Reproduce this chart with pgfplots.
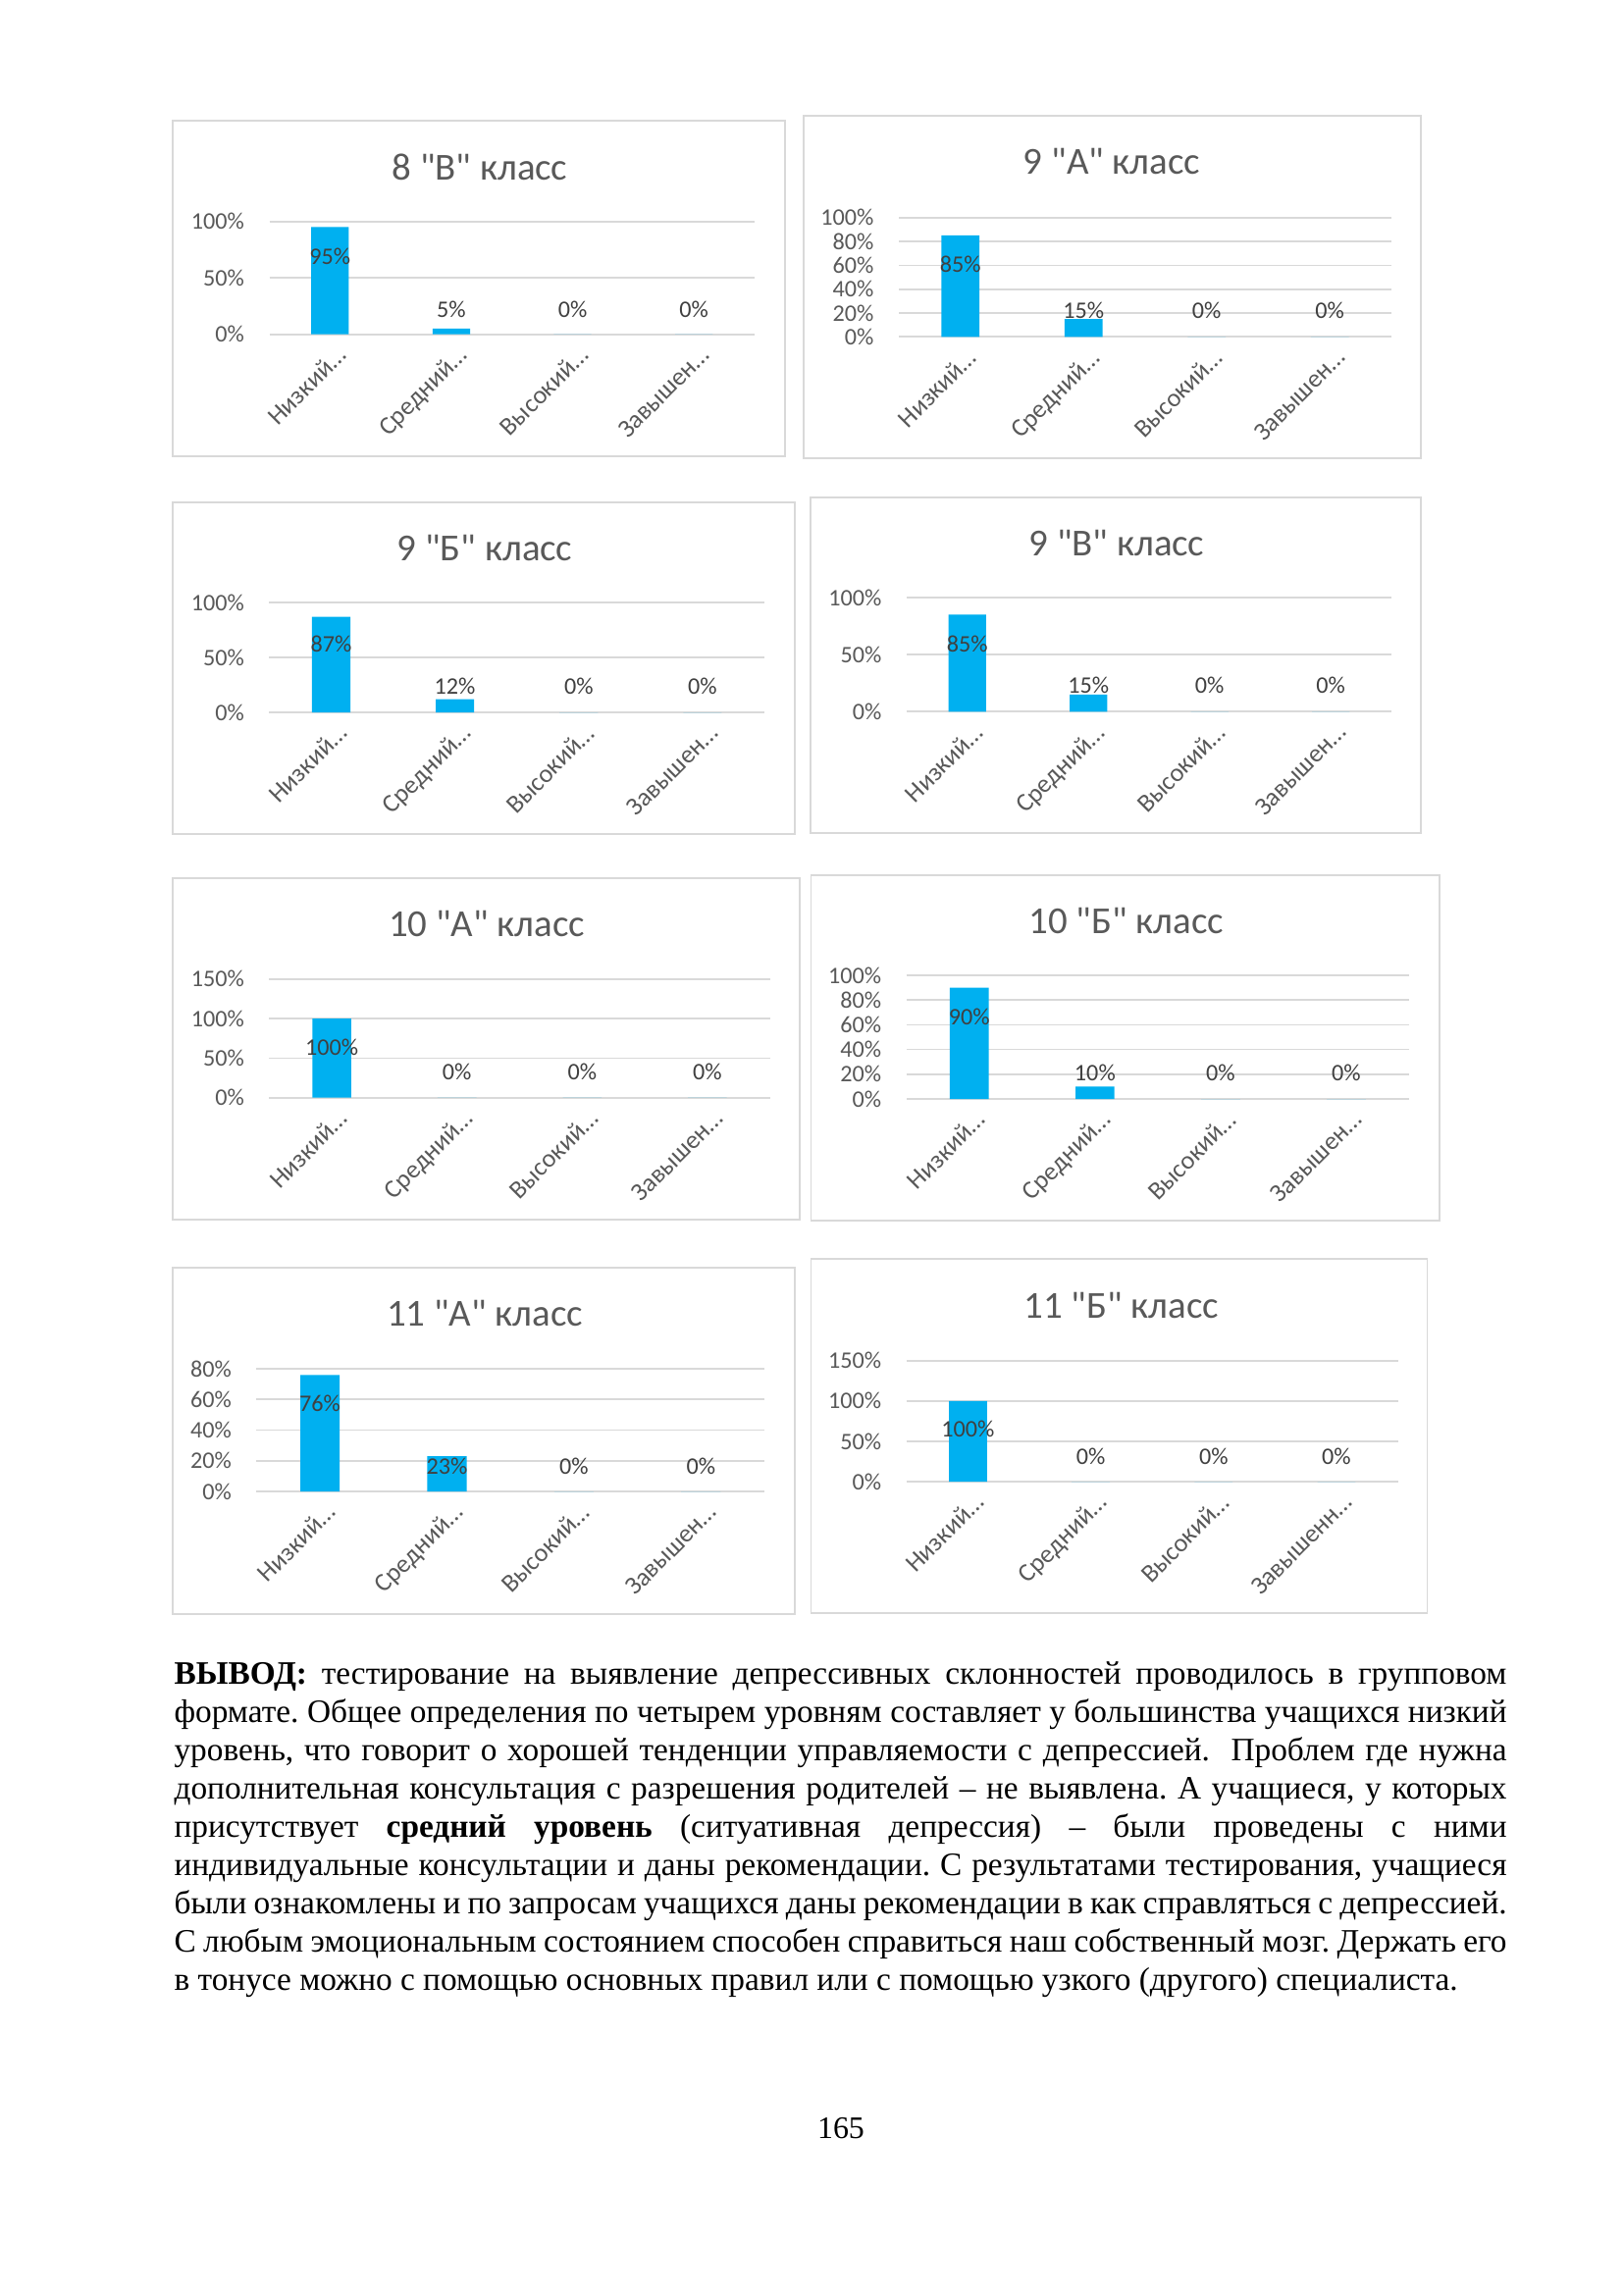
\documentclass[border=0pt]{standalone}
\usepackage{fontspec}
\setmainfont{Liberation Serif}
\newfontfamily\calib{Carlito}[Ligatures=TeXOff]
\usepackage{pgfplots}
\pgfplotsset{compat=1.18}

\definecolor{barc}{HTML}{00B0F0}
\definecolor{txt}{HTML}{595959}
\definecolor{lab}{HTML}{404040}
\definecolor{grd}{HTML}{D9D9D9}
\definecolor{frm}{HTML}{D9D9D9}

\pgfplotsset{
  klass/.style={
    scale only axis,
    anchor=south west,
    xmin=-0.5, xmax=3.5, ymin=0,
    axis line style={draw=none},
    major tick length=0pt,
    tick style={draw=none},
    ymajorgrids,
    grid style={draw=grd, line width=0.6pt},
    xtick={0,1,2,3},
    xticklabels={Низкий…,Средний…,Высокий…,Завышен…},
    ticklabel style={font=\calib\fontsize{8.7}{10}\selectfont, text=txt},
    yticklabel={\pgfmathprintnumber[assume math mode=true]{\tick}\%},
    yticklabel style={anchor=east, inner sep=0pt, xshift=-9pt},
    xticklabel style={font=\calib\fontsize{9.4}{11}\selectfont, inner sep=0pt,
      xshift=1.8pt, yshift=-3.6pt, rotate=45, anchor=north east},
  },
  bars/.style={ybar, bar width=0.31, bar shift=0pt, fill=barc, draw=none},
  labs/.style={draw=none, mark=none, point meta=explicit symbolic,
    nodes near coords, nodes near coords align=center,
    every node near coord/.append style={font=\calib\fontsize{8.7}{10}\selectfont,
      text=lab, anchor=center, inner sep=0pt}},
}

\begin{document}
\frenchspacing
\begin{tikzpicture}
\begin{scope}[x=0.36pt, y=-0.36pt]
  \useasboundingbox (0,0) rectangle (1654,2339);
  % chart frames
  \draw[frm, line width=0.6pt] (176,123) rectangle (800,465);
  \draw[frm, line width=0.6pt] (819,118) rectangle (1448,467);
  \draw[frm, line width=0.6pt] (176,511.7) rectangle (810,850);
  \draw[frm, line width=0.6pt] (826,507) rectangle (1448,849);
  \draw[frm, line width=0.6pt] (176,895) rectangle (815,1242.7);
  \draw[frm, line width=0.6pt] (826.4,891.7) rectangle (1467,1244);
  \draw[frm, line width=0.6pt] (176,1291.7) rectangle (810,1645);
  \draw[frm, line width=0.6pt] (826.4,1283.3) rectangle (1454.5,1644);
  % titles
  \begin{scope}[every node/.style={font=\calib\fontsize{14}{17}\selectfont, text=txt, inner sep=0pt}]
    \node at (489,170) {8 "В" класс};
    \node at (1133,165) {9 "А" класс};
    \node at (494,558) {9 "Б" класс};
    \node at (1138,553) {9 "В" класс};
    \node at (496,941.7) {10 "А" класс};
    \node at (1147.7,938.3) {10 "Б" класс};
    \node at (494,1338.3) {11 "А" класс};
    \node at (1142.6,1330) {11 "Б" класс};
  \end{scope}
  % conclusion text
  \begin{scope}[every node/.style={anchor=base west, inner sep=0pt, font=\fontsize{12}{14}\selectfont}]
    \node at (177,1716) {\makebox[488.9pt][s]{\textbf{ВЫВОД:} тестирование на выявление депрессивных склонностей проводилось в групповом}};
    \node at (177,1755) {\makebox[488.9pt][s]{формате. Общее определения по четырем уровням составляет у большинства учащихся низкий}};
    \node at (177,1794) {\makebox[488.9pt][s]{уровень, что говорит о хорошей тенденции управляемости с депрессией.\ \ Проблем где нужна}};
    \node at (177,1833) {\makebox[488.9pt][s]{дополнительная консультация с разрешения родителей – не выявлена. А учащиеся, у которых}};
    \node at (177,1872) {\makebox[488.9pt][s]{присутствует \textbf{средний уровень} (ситуативная депрессия) – были проведены с ними}};
    \node at (177,1911) {\makebox[488.9pt][s]{индивидуальные консультации и даны рекомендации. С результатами тестирования, учащиеся}};
    \node at (177,1950) {\makebox[488.9pt][s]{были ознакомлены и по запросам учащихся даны рекомендации в как справляться с депрессией.}};
    \node at (177,1989) {\makebox[488.9pt][s]{С любым эмоциональным состоянием способен справиться наш собственный мозг. Держать его}};
    \node at (177,2028) {в тонусе можно с помощью основных правил или с помощью узкого (другого) специалиста.};
  \end{scope}
  \node[anchor=base, inner sep=0pt, font=\fontsize{11.5}{13.8}\selectfont] at (857,2179) {165};
\end{scope}

% 8 "В"
\begin{axis}[klass, at={(98.82pt,-122.65pt)}, width=178.02pt, height=41.4pt,
  ymax=100, ytick={0,50,100}]
  \addplot[bars] coordinates {(0,95) (1,5) (2,0) (3,0)};
  \addplot[labs] coordinates {(0,68.7) [95\%] (1,22.3) [5\%] (2,22.3) [0\%] (3,22.3) [0\%]};
\end{axis}

% 9 "А"
\begin{axis}[klass, at={(329.76pt,-123.59pt)}, width=180.72pt, height=43.78pt,
  ymax=100, ytick={0,20,40,60,80,100}]
  \addplot[bars] coordinates {(0,85) (1,15) (2,0) (3,0)};
  \addplot[labs] coordinates {(0,60.9) [85\%] (1,21.9) [15\%] (2,21.9) [0\%] (3,21.9) [0\%]};
\end{axis}

% 9 "Б"
\begin{axis}[klass, at={(98.78pt,-261.36pt)}, width=181.66pt, height=40.32pt,
  ymax=100, ytick={0,50,100}]
  \addplot[bars] coordinates {(0,87) (1,12) (2,0) (3,0)};
  \addplot[labs] coordinates {(0,61.9) [87\%] (1,23.8) [12\%] (2,23.8) [0\%] (3,23.8) [0\%]};
\end{axis}

% 9 "В"
\begin{axis}[klass, at={(332.64pt,-261.11pt)}, width=177.84pt, height=41.87pt,
  ymax=100, ytick={0,50,100}]
  \addplot[bars] coordinates {(0,85) (1,15) (2,0) (3,0)};
  \addplot[labs] coordinates {(0,59.6) [85\%] (1,23.2) [15\%] (2,23.2) [0\%] (3,23.2) [0\%]};
\end{axis}

% 10 "А"
\begin{axis}[klass, at={(98.78pt,-402.73pt)}, width=183.71pt, height=43.56pt,
  ymax=150, ytick={0,50,100,150}]
  \addplot[bars] coordinates {(0,100) (1,0) (2,0) (3,0)};
  \addplot[labs] coordinates {(0,63.7) [100\%] (1,32.7) [0\%] (2,32.7) [0\%] (3,32.7) [0\%]};
\end{axis}

% 10 "Б"
\begin{axis}[klass, at={(332.57pt,-403.2pt)}, width=184.39pt, height=45.36pt,
  ymax=100, ytick={0,20,40,60,80,100}]
  \addplot[bars] coordinates {(0,90) (1,10) (2,0) (3,0)};
  \addplot[labs] coordinates {(0,66.7) [90\%] (1,21.2) [10\%] (2,21.2) [0\%] (3,21.2) [0\%]};
\end{axis}

% 11 "А"
\begin{axis}[klass, at={(94.1pt,-547.2pt)}, width=186.34pt, height=45pt,
  ymax=80, ytick={0,20,40,60,80}]
  \addplot[bars] coordinates {(0,76) (1,23) (2,0) (3,0)};
  \addplot[labs] coordinates {(0,57.6) [76\%] (1,16.6) [23\%] (2,16.6) [0\%] (3,16.6) [0\%]};
\end{axis}

% 11 "Б"
\begin{axis}[klass, at={(332.57pt,-543.6pt)}, width=180.29pt, height=44.39pt,
  ymax=150, ytick={0,50,100,150},
  xticklabels={Низкий…,Средний…,Высокий…,Завышенн…}]
  \addplot[bars] coordinates {(0,100) (1,0) (2,0) (3,0)};
  \addplot[labs] coordinates {(0,64.8) [100\%] (1,31.6) [0\%] (2,31.6) [0\%] (3,31.6) [0\%]};
\end{axis}
\end{tikzpicture}
\end{document}
